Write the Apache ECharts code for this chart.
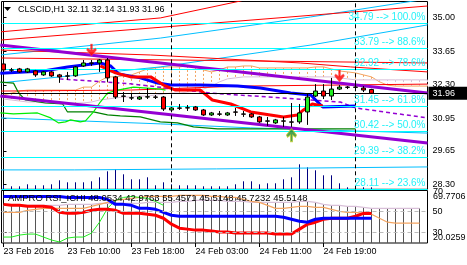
<!DOCTYPE html>
<html><head><meta charset="utf-8">
<script src="https://cdn.jsdelivr.net/npm/echarts@6/dist/echarts.min.js"></script>
<style>html,body{margin:0;padding:0;background:#fff}#c{width:467px;height:265px}</style>
</head><body><div id="c"></div>
<script>
// ---------- DATA ----------
const symbolName = 'CLSCID,H1';
// candles [open, close, low, high], one per hour bar
const ohlc = [
 [33.14,32.90,32.82,33.22],[32.90,32.89,32.82,32.98],[32.94,32.82,32.78,32.98],[32.82,32.94,32.78,32.98],
 [32.86,32.70,32.62,32.90],[32.70,32.82,32.66,32.86],[32.82,32.66,32.62,32.86],[32.70,32.62,32.38,32.74],
 [32.66,32.65,32.50,32.82],[32.66,33.02,32.62,33.06],[33.06,33.18,33.02,33.30],[33.18,33.17,33.06,33.30],
 [33.18,33.30,32.82,33.34],[33.30,32.58,32.42,33.38],[32.62,31.81,31.73,32.66],[31.85,31.84,31.61,32.01],
 [31.77,31.78,31.69,31.97],[31.73,31.81,31.69,31.85],[31.81,31.82,31.73,32.17],[31.81,31.80,31.73,31.89],
 [31.81,31.33,31.25,31.85],[31.29,31.37,31.25,31.41],[31.37,31.36,31.29,31.53],[31.37,31.38,31.25,31.49],
 [31.41,31.29,31.25,31.45],[31.29,31.09,31.05,31.33],[31.09,31.17,31.05,31.21],[31.13,31.12,31.05,31.25],
 [31.09,31.17,31.05,31.21],[31.21,31.20,31.05,31.37],[31.13,31.12,31.01,31.25],[31.13,31.01,30.97,31.17],
 [31.01,30.81,30.77,31.05],[30.85,30.84,30.65,31.01],[30.77,30.89,30.73,30.93],[30.85,30.84,30.61,31.01],
 [30.81,30.80,30.61,31.57],[30.81,31.17,30.73,31.53],[31.21,31.81,30.69,31.97],[31.85,32.05,31.81,32.33],
 [32.05,31.85,31.73,32.33],[31.85,32.13,31.69,32.58],[32.13,32.21,32.09,32.29],[32.21,32.20,32.13,32.25],
 [32.21,32.20,32.05,32.33],[32.17,32.09,32.01,32.25],[32.11,31.96,31.93,32.14]
];
const tickVolume = [160,120,120,200,160,160,200,360,280,280,280,320,480,720,800,600,400,400,480,160,280,200,160,160,
 160,120,120,120,120,200,320,320,200,240,240,400,480,1000,880,760,560,560,240,80,80,80,80];
const xLabelBars = [0,8,16,24,32,40];
const xLabels = ['23 Feb 2016','23 Feb 10:00','23 Feb 18:00','24 Feb 03:00','24 Feb 11:00','24 Feb 19:00'];
const priceTicks = [35.00,33.65,32.30,30.95,29.65,28.30];
const fibLevels = [34.79,33.79,32.92,31.45,30.42,29.39,28.11];
const fibPercents = ['100.0%','88.6%','78.6%','61.8%','50.0%','38.2%','23.6%'];
const signalDown = [[11,33.70],[42,32.66]];
const signalUp = [[36,30.28]];
const vLineBars = [21,44];
// Ichimoku cloud spans on price (bar index 0..53)
const spanA = [31.89,31.97,32.05,32.09,32.09,32.09,32.09,32.09,32.09,32.09,32.21,32.21,32.45,32.62,32.62,32.66,32.70,32.82,32.94,32.98,33.02,33.02,33.02,33.06,33.02,32.90,32.82,32.90,33.02,33.02,33.06,33.06,32.98,32.98,32.98,32.98,32.98,32.98,32.98,33.02,33.02,32.94,32.86,32.82,32.78,32.70,32.62,32.42,32.29,32.25,32.25,32.25,32.25,32.25];
const spanB = [31.73,31.69,31.65,31.61,31.61,31.57,31.57,31.57,31.57,31.57,31.57,31.61,31.69,31.73,31.77,31.81,31.81,31.85,31.85,31.89,31.93,31.97,31.97,32.01,32.05,32.13,32.25,32.42,32.54,32.58,32.62,32.62,32.62,32.62,32.62,32.62,32.62,32.62,32.62,32.62,32.62,32.62,32.58,32.54,32.50,32.50,32.50,32.50,32.50,32.50,32.50,32.50,32.50,32.50];
// other main-panel lines as [barIndex, price]
const blueMA = [[-0.4,32.77],[5,32.86],[8,33.02],[12.1,33.18],[13.4,33.06],[14.4,32.74],[17.1,32.58],[19.25,32.37],[20.9,32.29],[24.6,32.29],[29.25,32.25],[32.1,32.17],[35.9,31.97],[38.4,31.89],[39.9,31.41],[44,31.45]];
const redMA = [[12.1,33.06],[14,32.78],[15.9,32.62],[18.4,32.62],[20,32.29],[21.5,32.09],[24.6,32.09],[26.1,31.69],[28.4,31.53],[30.9,31.21],[35,31.01],[36.75,31.09],[37.5,31.29],[38.6,31.53],[39.9,31.45]];
const chikou = [[-0.4,31.17],[1.25,31.13],[4.25,31.17],[5.9,30.97],[6.9,30.77],[7.75,30.81],[8.4,30.89],[9.6,30.81],[10.25,30.85],[11.25,31.21],[12.1,31.61],[13,31.97],[14.25,32.09],[16.25,32.21],[19.6,32.13],[20.25,32.09]];
const kijun = [[-0.4,32.41],[1.25,32.37],[1.9,31.97],[2.75,31.69],[5.25,31.57],[7.4,31.53],[8,31.21],[11.25,31.21],[13,31.09],[14.6,31.05],[17.1,31.01],[19.6,30.81],[21.75,30.77],[23.75,30.61],[26.75,30.53],[44,30.53]];
const purpleUpper = [[-0.4,33.90],[53,31.97]];
const purpleLower = [[-0.4,31.85],[53,29.96]];
const purpleDashed = [[7,32.54],[15.9,32.34],[25.9,31.97],[42.1,31.61],[44,31.37],[53,30.97]];
const redLine0 = [[-0.4,34.43],[19.6,34.99],[29.6,35.67],[31,35.8]];
const redLine1 = [[-0.4,34.10],[53,35.47]];
const redLine2 = [[-0.4,33.70],[18.4,33.50],[37.1,33.18],[43.4,33.02],[53,32.82]];
const redLine3 = [[-0.4,33.38],[53,33.18]];
const redLine4 = [[-0.4,32.05],[15.9,32.09],[29.6,32.25],[53,32.33]];
const skyLine1 = [[-0.4,33.50],[19.6,34.18],[38.4,35.03],[49.6,35.59],[52.1,35.71]];
const skyLine2 = [[-0.4,32.38],[19.6,33.02],[38.4,33.90],[53,34.71]];
const skyLine3 = [[-0.4,30.97],[19.6,30.73],[30.9,30.57],[53,30.36]];
const skyLine4 = [[-0.4,28.88],[8.9,28.88],[8.9,28.92],[26.6,28.92],[26.6,28.96],[53,29.00]];
// sub window (RSI Ichimoku)
const subTitle = 'AMPRO RSI_ICHI 48.0534 42.9763 55.4571 45.5148 45.7232 45.5148';
const subMin = 20.0259, subMax = 69.7706;
const subTicks = [50,30];
const subSpanA = [49.12,49.12,49.12,51.0,51.94,52.87,52.87,52.87,52.87,52.87,52.87,54.75,56.63,58.51,60.38,61.32,62.26,63.2,64.14,64.14,64.14,64.14,65.08,65.08,65.08,65.08,64.14,64.14,63.2,63.2,61.32,59.45,58.51,55.69,52.87,52.87,53.81,54.75,54.75,53.81,53.81,51.94,50.06,49.12,49.12,48.18,47.24,43.49,39.73,38.79,38.79,38.79,38.79];
const subSpanB = [55.69,55.69,55.69,55.69,55.69,55.69,55.69,55.69,56.63,56.63,56.63,56.63,57.57,57.57,57.57,57.57,57.57,57.57,58.51,58.51,58.51,58.51,59.45,59.45,60.38,60.38,60.38,60.38,59.45,59.45,59.45,58.51,58.51,58.51,58.51,58.51,58.51,59.45,59.45,58.51,56.63,55.69,55.69,54.75,54.75,53.81,52.87,52.87,52.87,52.87,52.87,52.87,52.87];
const subBlue = [64.14,64.14,64.14,64.14,64.14,64.14,64.14,64.14,63.2,63.2,63.2,63.2,63.2,61.32,56.63,56.63,55.69,52.87,52.87,51.94,49.12,46.31,45.37,45.37,45.37,45.37,45.37,45.37,45.37,45.37,45.37,45.37,45.37,45.37,45.37,44.43,42.55,40.67,39.73,42.55,43.49,43.49,43.49,43.49,43.49,43.49,43.49];
const subRed = [56.63,55.69,55.69,54.75,54.75,54.75,53.81,49.12,48.18,48.18,49.12,51.0,51.94,51.94,51.0,48.18,48.18,48.18,47.24,46.31,43.49,37.86,34.1,33.17,32.23,32.23,31.29,30.35,30.35,29.41,29.41,29.41,29.41,29.41,28.47,28.47,28.47,33.17,37.86,39.73,42.55,43.49,43.49,43.49,45.37,48.18,48.05];
const subLime = [25.66,25.66,27.54,28.47,28.47,25.66,22.84,20.96,24.73,25.66,25.66,29.41,39.73,52.87,60.38,63.2,64.14,63.2,62.26,59.45,55.69];

// ---------- CHART ----------
const F = '"Liberation Sans", Arial, sans-serif';
const X_MIN = -0.25, X_MAX = 53;
const P_MIN = 28.10, P_MAX = 35.651;
const last = ohlc[ohlc.length-1];
const idx = a => a.map((v,i)=>[i,v]);

function ln(data, color, width, extra) {
  return Object.assign({type:'line', xAxisIndex:0, yAxisIndex:0, data, symbol:'none', silent:true,
    lineStyle:{color, width}, z:2, clip:true}, extra||{});
}
function sl(data, color, width, extra) {
  return Object.assign({type:'line', xAxisIndex:1, yAxisIndex:2, data, symbol:'none', silent:true,
    lineStyle:{color, width}, z:2, clip:true}, extra||{});
}

const chart = echarts.init(document.getElementById('c'), null, {renderer:'canvas'});
const option = {
  animation:false,
  backgroundColor:'#fff',
  grid:[
    {left:1.5, top:1.5, width:426, height:187.8, show:true, borderColor:'#000', borderWidth:1, backgroundColor:'transparent'},
    {left:1.5, top:190.5, width:426, height:52.5, show:true, borderColor:'#000', borderWidth:1, backgroundColor:'transparent'}
  ],
  xAxis:[
    {type:'value', gridIndex:0, min:X_MIN, max:X_MAX, show:false},
    {type:'value', gridIndex:1, min:X_MIN, max:X_MAX, position:'bottom',
      axisLine:{show:false}, splitLine:{show:false},
      axisTick:{show:true, customValues:xLabelBars, length:4, lineStyle:{color:'#000'}},
      axisLabel:{show:true, customValues:xLabelBars, align:'left', margin:4, fontSize:9, fontFamily:F, color:'#000',
        formatter:v=>{const k=xLabelBars.indexOf(Math.round(v)); return k>=0?xLabels[k]:'';}}}
  ],
  yAxis:[
    {type:'value', gridIndex:0, min:P_MIN, max:P_MAX, position:'right',
      axisLine:{show:true, lineStyle:{color:'#000'}}, splitLine:{show:false},
      axisTick:{show:true, customValues:priceTicks, length:3, lineStyle:{color:'#000'}},
      axisLabel:{show:true, customValues:priceTicks, margin:5, fontSize:9, fontFamily:F, color:'#000', formatter:v=>v.toFixed(2)}},
    {type:'value', gridIndex:0, min:0, max:7512, show:false},
    {type:'value', gridIndex:1, min:subMin, max:subMax, position:'right',
      axisLine:{show:true, lineStyle:{color:'#000'}}, splitLine:{show:false},
      axisTick:{show:true, customValues:subTicks, length:3, lineStyle:{color:'#000'}},
      axisLabel:{show:true, customValues:subTicks, margin:5, fontSize:9, fontFamily:F, color:'#000', formatter:v=>String(v)}}
  ],
  series:[
    // Kumo cloud hatching
    {type:'custom', xAxisIndex:0, yAxisIndex:0, z:1, clip:true, silent:true,
      data: spanA.map((a,i)=>[i,a,spanB[i]]), encode:{x:0,y:[1,2]},
      renderItem:(p,api)=>{const i=api.value(0),a=api.value(1),b=api.value(2);
        const p1=api.coord([i,a]),p2=api.coord([i,b]);
        return {type:'line',shape:{x1:p1[0],y1:p1[1],x2:p2[0],y2:p2[1]},
          style:{stroke:a>=b?'#F4A460':'#D8BFD8',lineWidth:1,lineDash:[2,2]}};}},
    // volumes
    {type:'custom', xAxisIndex:0, yAxisIndex:1, z:1, clip:true, silent:true,
      data: idx(tickVolume), encode:{x:0,y:1},
      renderItem:(p,api)=>{const i=api.value(0),v=api.value(1);
        const p1=api.coord([i,v]),p2=api.coord([i,0]);
        return {type:'line',shape:{x1:p1[0],y1:p1[1],x2:p2[0],y2:p2[1]},style:{stroke:'#000080',lineWidth:1}};}},
    ln(idx(spanA), '#F4A460', 1),
    ln(idx(spanB), '#D8BFD8', 1),
    ln(skyLine1, '#00BFFF', 1),
    ln(skyLine2, '#00BFFF', 1),
    ln(skyLine3, '#00BFFF', 1),
    ln(skyLine4, '#00BFFF', 1, {
      markLine:{silent:true, symbol:'none', animation:false,
        lineStyle:{color:'#00FFFF', width:1, type:'solid'},
        label:{show:true, position:'insideEndTop', distance:[2,1], color:'#26F2F8', fontSize:10, fontFamily:F,
          formatter:p=>{const k=p.dataIndex; return fibLevels[k].toFixed(2)+' --> '+fibPercents[k];}},
        data: fibLevels.map(v=>({yAxis:v}))}}),
    ln(redLine0, '#FF0000', 1),
    ln(redLine1, '#FF0000', 1),
    ln(redLine2, '#FF0000', 1),
    ln(redLine3, '#FF0000', 1),
    ln(redLine4, '#FF0000', 1),
    ln(purpleUpper, '#9400D3', 3, {z:3}),
    ln(purpleLower, '#9400D3', 3, {z:3}),
    ln(purpleDashed, '#9400D3', 1.5, {lineStyle:{color:'#9400D3', width:1.5, type:[4,3]}}),
    ln(kijun, '#008000', 1.2),
    ln(chikou, '#00EE00', 1.2),
    ln(blueMA, '#0000FF', 3, {z:3}),
    ln(redMA, '#FF0000', 3, {z:3}),
    {type:'candlestick', xAxisIndex:0, yAxisIndex:0, z:5, barWidth:5, silent:true,
      data: ohlc.map((d,i)=>[i,d[0],d[1],d[2],d[3]]),
      itemStyle:{color:'#22EE22', color0:'#FF0000', borderColor:'#000', borderColor0:'#000', borderWidth:1},
      markLine:{silent:true, symbol:'none', animation:false,
        data:[
          ...vLineBars.map(b=>({xAxis:b, lineStyle:{color:'#000', width:1, type:[4,3]}, label:{show:false}})),
          {yAxis:last[1], lineStyle:{color:'#000', width:1, type:'solid'},
            label:{show:true, position:'end', distance:1, formatter:()=>last[1].toFixed(2), color:'#fff',
              backgroundColor:'#000', padding:[2,12,2,4], fontSize:9, fontFamily:F}}
        ]}},
    {type:'scatter', xAxisIndex:0, yAxisIndex:0, z:6, silent:true, data:signalDown,
      symbol:'path://M4,0 L6,0 L6,6 L9,4 L10,6 L5,12 L0,6 L1,4 L4,6 Z', symbolSize:[10,12],
      itemStyle:{color:'#FF0000', borderColor:'#FF6060', borderWidth:0.5}},
    {type:'scatter', xAxisIndex:0, yAxisIndex:0, z:6, silent:true, data:signalUp,
      symbol:'path://M5,0 L10,6 L9,8 L6,6 L6,12 L4,12 L4,6 L1,8 L0,6 Z', symbolSize:[10,13],
      itemStyle:{color:'#228B22', borderColor:'#B8C830', borderWidth:1}},
    // ---- sub window ----
    {type:'custom', xAxisIndex:1, yAxisIndex:2, z:1, clip:true, silent:true,
      data: subSpanA.map((a,i)=>[i,Math.max(a,subSpanB[i])]), encode:{x:0,y:1},
      renderItem:(p,api)=>{const i=api.value(0),v=api.value(1);
        const p1=api.coord([i,v]),p2=api.coord([i,subMin]);
        return {type:'line',shape:{x1:p1[0],y1:p1[1],x2:p2[0],y2:p2[1]},style:{stroke:'#555',lineWidth:1}};}},
    sl(idx(subSpanB), '#D8BFD8', 1.2, {
      markLine:{silent:true, symbol:'none', animation:false, label:{show:false},
        lineStyle:{color:'#BBBBBB', width:1, type:[4,3]}, data:subTicks.map(v=>({yAxis:v}))}}),
    sl(idx(subSpanA), '#F4A460', 1.2),
    sl(idx(subLime), '#22EE22', 1),
    sl(idx(subRed), '#FF0000', 3, {z:3}),
    sl(idx(subBlue), '#0000FF', 3, {z:4})
  ],
  graphic:[
    {type:'polygon', shape:{points:[[4,7],[11,7],[7.5,11]]}, style:{fill:'#000'}, z:20},
    {type:'text', x:18, y:10, z:20, style:{text:symbolName+' '+last[0].toFixed(2)+' '+last[3].toFixed(2)+' '+last[2].toFixed(2)+' '+last[1].toFixed(2),
      font:'9px '+F, fill:'#000', verticalAlign:'middle'}},
    {type:'text', x:8, y:198, z:20, style:{text:subTitle, font:'9.5px '+F, fill:'#000', verticalAlign:'middle'}},
    {type:'text', x:433, y:192, z:20, style:{text:'70', font:'9px '+F, fill:'#000', verticalAlign:'middle'}},
    {type:'text', x:433, y:197, z:20, style:{text:subMax.toFixed(4), font:'9px '+F, fill:'#000', verticalAlign:'middle'}},
    {type:'text', x:433, y:238, z:20, style:{text:subMin.toFixed(4), font:'9px '+F, fill:'#000', verticalAlign:'middle'}}
  ]
};
chart.setOption(option);
</script></body></html>
